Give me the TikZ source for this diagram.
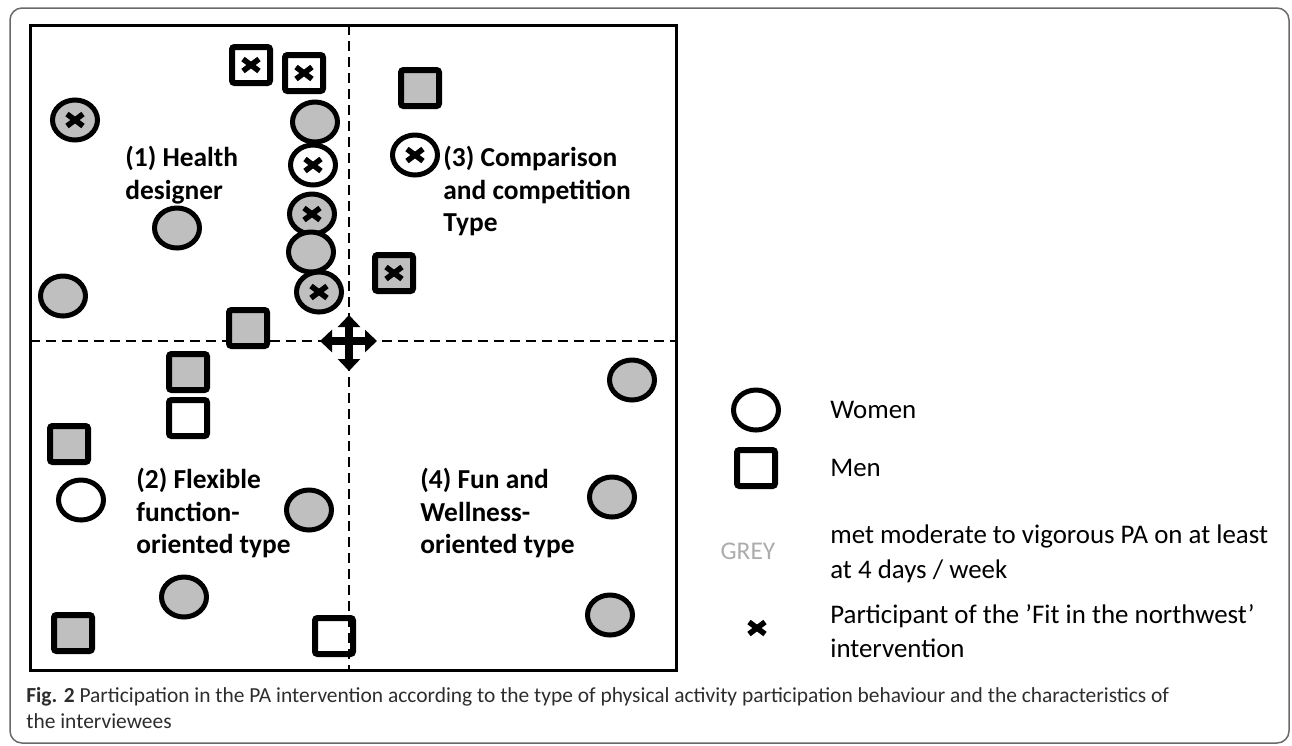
\documentclass[tikz,border=0pt]{standalone}
\usepackage{fontspec}
\setmainfont{Carlito}
\usetikzlibrary{shapes.geometric, arrows.meta, positioning}

\definecolor{markgrey}{RGB}{191,191,191}
\definecolor{legendgrey}{RGB}{172,172,172}
\definecolor{framegrey}{RGB}{105,105,105}
\definecolor{captext}{RGB}{45,45,45}

\begin{document}
\begin{tikzpicture}[x=0.2mm, y=-0.2mm,
    % Styles for each marker type
    woman/.style={ellipse, draw=black, line width=1mm, minimum width=9mm, minimum height=8mm, inner sep=0pt},
    man/.style={rectangle, draw=black, line width=1.2mm, rounded corners=0.5mm, minimum width=7.6mm, minimum height=7.2mm, inner sep=0pt},
    greyfill/.style={fill=markgrey},
    crossed/.style={path picture={
        \draw[line width=1.1mm] ([shift={(-8,-6)}]path picture bounding box.center) -- ([shift={(8,6)}]path picture bounding box.center);
        \draw[line width=1.1mm] ([shift={(-8,6)}]path picture bounding box.center) -- ([shift={(8,-6)}]path picture bounding box.center);}},
    quadlabel/.style={anchor=west, align=left, inner sep=0pt, font=\bfseries\fontsize{15.6}{18.4}\selectfont},
    legendtext/.style={anchor=west, align=left, inner sep=0pt, font=\fontsize{15.3}{19.8}\selectfont},
    divider/.style={line width=0.4mm, dash pattern=on 2mm off 1.2mm},
    arrow/.style={line width=1.5mm, {Triangle[length=2.4mm,width=4.4mm]}-{Triangle[length=2.4mm,width=4.4mm]}}
]
\useasboundingbox (0,0) rectangle (1292,745);

% Outer frame and plot area
\draw[framegrey, line width=0.3mm, rounded corners=2.4mm] (10,8) rectangle (1289,743);
\draw[line width=0.6mm] (30,25) rectangle (676,670);

% Dividing lines
\coordinate (vtop) at (349,25);
\coordinate (vbot) at (349,670);
\coordinate (hleft) at (30,341);
\coordinate (hright) at (676,341);
\draw[divider] (vtop) -- (vbot);
\draw[divider] (hleft) -- (hright);

% Centre cross of arrows
\coordinate (arrl) at (320,341);
\coordinate (arrr) at (377,341);
\coordinate (arrt) at (349,315);
\coordinate (arrb) at (349,371);
\draw[arrow] (arrl) -- (arrr);
\draw[arrow] (arrt) -- (arrb);

% Quadrant (1) - top left
\node[man, crossed] (m1) at (251,65) {};
\node[man, crossed] (m2) at (304,73) {};
\node[woman, greyfill, crossed] (w1) at (75,120) {};
\node[woman, greyfill] (w2) at (315,122) {};
\node[woman, crossed] (w3) at (313,165) {};
\node[woman, greyfill, crossed] (w4) at (312,214) {};
\node[woman, greyfill] (w5) at (311,252) {};
\node[woman, greyfill, crossed] (w6) at (319,292) {};
\node[woman, greyfill] (w7) at (177,228) {};
\node[woman, greyfill] (w8) at (63,296) {};
\node[man, greyfill] (m3) at (248,328) {};
\node[quadlabel] (q1) at (125,175) {(1) Health\\designer};

% Quadrant (3) - top right
\node[man, greyfill] (m4) at (420,88) {};
\node[woman, crossed] (w9) at (415,155) {};
\node[man, greyfill, crossed] (m5) at (394,273) {};
\node[quadlabel] (q3) at (443,191) {(3) Comparison\\and competition\\Type};

% Quadrant (2) - bottom left
\node[man, greyfill] (m6) at (188,372) {};
\node[man] (m7) at (188,418) {};
\node[man, greyfill] (m8) at (69,444) {};
\node[woman] (w10) at (81,500) {};
\node[woman, greyfill] (w11) at (309,510) {};
\node[woman, greyfill] (w12) at (184,597) {};
\node[man, greyfill] (m9) at (73,633) {};
\node[man] (m10) at (334,636) {};
\node[quadlabel] (q2) at (136,513) {(2) Flexible\\function-\\oriented type};

% Quadrant (4) - bottom right
\node[woman, greyfill] (w13) at (632,380) {};
\node[woman, greyfill] (w14) at (612,497) {};
\node[woman, greyfill] (w15) at (610,615) {};
\node[quadlabel] (q4) at (420,513) {(4) Fun and\\Wellness-\\oriented type};

% Legend
\node[woman] (lwoman) at (756,410) {};
\node[man] (lman) at (756,468) {};
\node[font=\fontsize{14.5}{16}\selectfont, text=legendgrey, inner sep=0pt] (lgrey) at (748,551) {GREY};
\node[crossed, minimum size=6mm, inner sep=0pt] (lcross) at (757,628) {};
\node[legendtext] (twoman) at (830,410) {Women};
\node[legendtext] (tman) at (830,468) {Men};
\node[legendtext] (tgrey) at (830,554) {met moderate to vigorous PA on at least\\at 4 days / week};
\node[legendtext] (tcross) at (830,631) {Participant of the ’Fit in the northwest’\\intervention};

% Caption
\node[anchor=base west, align=left, inner sep=0pt, text=captext, font=\fontsize{12.2}{14.7}\selectfont] (caption) at (26,728)
  {{\bfseries Fig. 2} Participation in the PA intervention according to the type of physical activity participation behaviour and the characteristics of\\the interviewees};

\end{tikzpicture}
\end{document}
